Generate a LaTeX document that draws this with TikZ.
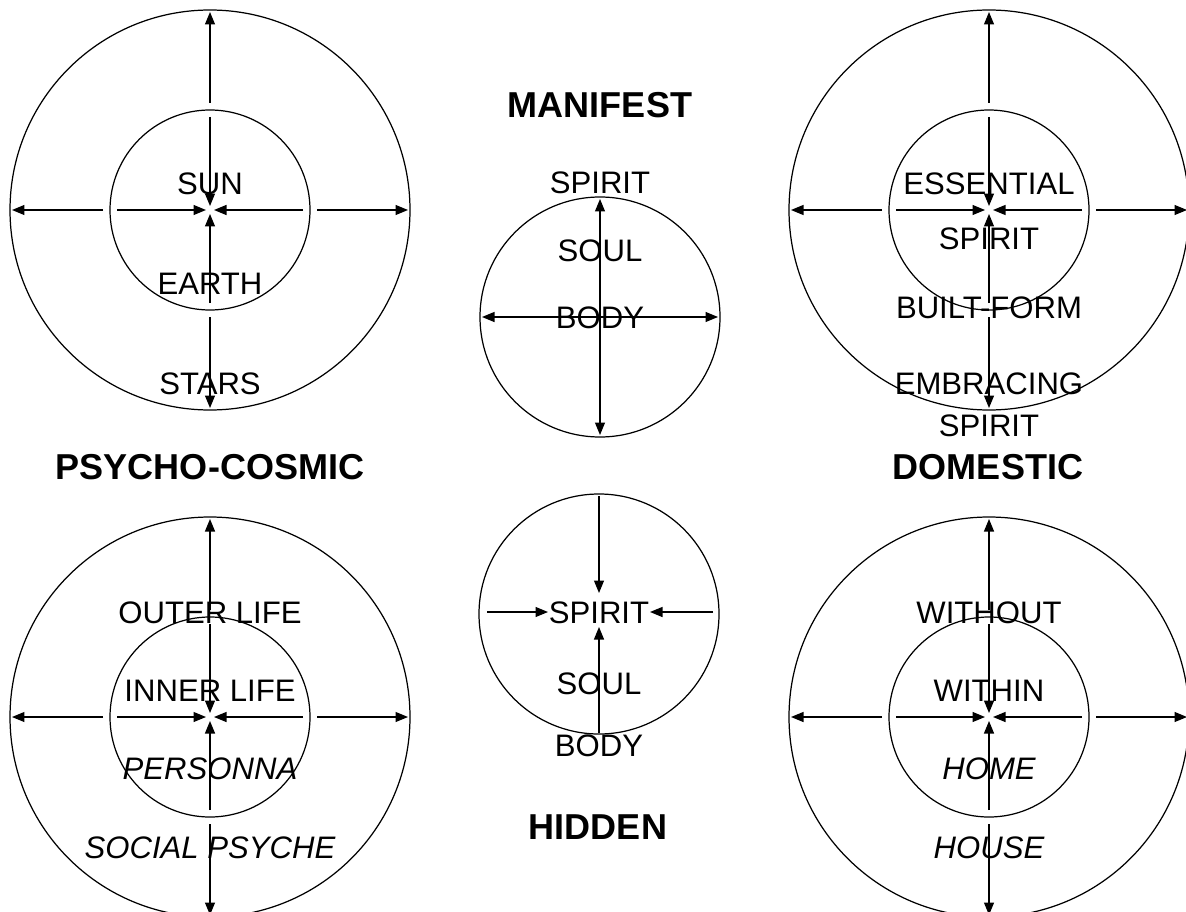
\documentclass[tikz,border=0pt]{standalone}
\usepackage{fontspec}
\setmainfont{Liberation Sans}
\usetikzlibrary{arrows.meta,calc}

\begin{document}
\begin{tikzpicture}[x=0.02cm, y=-0.02cm,
        ring/.style={line width=0.7pt},
        arrow/.style={-{Triangle[length=2.5mm, width=2mm]}, line width=0.7pt},
        twoway/.style={{Triangle[length=2.5mm, width=2mm]}-{Triangle[length=2.5mm, width=2mm]}, line width=0.7pt},
        word/.style={font=\fontsize{17.7}{20}\selectfont, inner sep=0pt, text height=12.7pt, text depth=0pt},
        slant/.style={word, font=\fontsize{17.7}{20}\selectfont\itshape},
        heading/.style={font=\fontsize{20.5}{24}\selectfont\bfseries, inner sep=0pt, text height=14.7pt, text depth=0pt}
      ]
      \clip (0,0) rectangle (1186,912);
      % four concentric mandalas
      \foreach \m/\cx/\cy in {cosmic/210/210, domestic/989/210, psyche/210/717, home/989/717} {
        \coordinate (\m) at (\cx,\cy);
        \draw[ring] (\m) circle[radius=200];
        \draw[ring] (\m) circle[radius=100];
        \foreach \a in {0,90,180,270} {
          \draw[arrow] ($(\m)+(\a:107)$) -- ($(\m)+(\a:198)$);
          \draw[arrow] ($(\m)+(\a:93)$) -- ($(\m)+(\a:4)$);
        }
      }
      % manifest
      \coordinate (manifest) at (600,317);
      \draw[ring] (manifest) circle[radius=120];
      \draw[twoway] ($(manifest)+(-118,0)$) -- ($(manifest)+(118,0)$);
      \draw[twoway] ($(manifest)+(0,-118)$) -- ($(manifest)+(0,118)$);
      % hidden
      \coordinate (hidden) at (599,614);
      \draw[ring] (hidden) circle[radius=120];
      \draw[arrow] ($(hidden)+(0,-118)$) -- ($(hidden)+(0,-21)$);
      \draw[arrow] ($(hidden)+(-112,-2)$) -- ($(hidden)+(-51,-2)$);
      \draw[arrow] ($(hidden)+(114,-2)$) -- ($(hidden)+(51,-2)$);
      \draw[arrow] ($(hidden)+(0,119)$) -- ($(hidden)+(0,13)$);

      % labels
      \node[word] (sun) at (210,183) {SUN};
      \node[word] (earth) at (210,283) {EARTH};
      \node[word] (stars) at (210,383) {STARS};
      \node[word] (essential) at (989,183) {ESSENTIAL};
      \node[word] (espirit) at (989,238) {SPIRIT};
      \node[word] (builtform) at (989,307) {BUILT-FORM};
      \node[word] (embracing) at (989,383) {EMBRACING};
      \node[word] (bspirit) at (989,425) {SPIRIT};
      \node[word] (outerlife) at (210,612) {OUTER LIFE};
      \node[word] (innerlife) at (210,690) {INNER LIFE};
      \node[slant] (personna) at (210,768) {PERSONNA};
      \node[slant] (socialpsyche) at (210,847) {SOCIAL PSYCHE};
      \node[word] (without) at (989,612) {WITHOUT};
      \node[word] (within) at (989,690) {WITHIN};
      \node[slant] (homeword) at (989,768) {HOME};
      \node[slant] (house) at (989,847) {HOUSE};
      \node[word] (mspirit) at (600,182) {SPIRIT};
      \node[word] (msoul) at (600,250) {SOUL};
      \node[word] (mbody) at (600,317) {BODY};
      \node[word] (hspirit) at (599,612) {SPIRIT};
      \node[word] (hsoul) at (599,683) {SOUL};
      \node[word] (hbody) at (599,745) {BODY};

      \node[heading] (manifesttitle) at (600,105) {MANIFEST};
      \node[heading] (cosmictitle) at (210,467) {PSYCHO-COSMIC};
      \node[heading] (domestictitle) at (988,467) {DOMESTIC};
      \node[heading] (hiddentitle) at (598,827) {HIDDEN};
    \end{tikzpicture}
\end{document}
